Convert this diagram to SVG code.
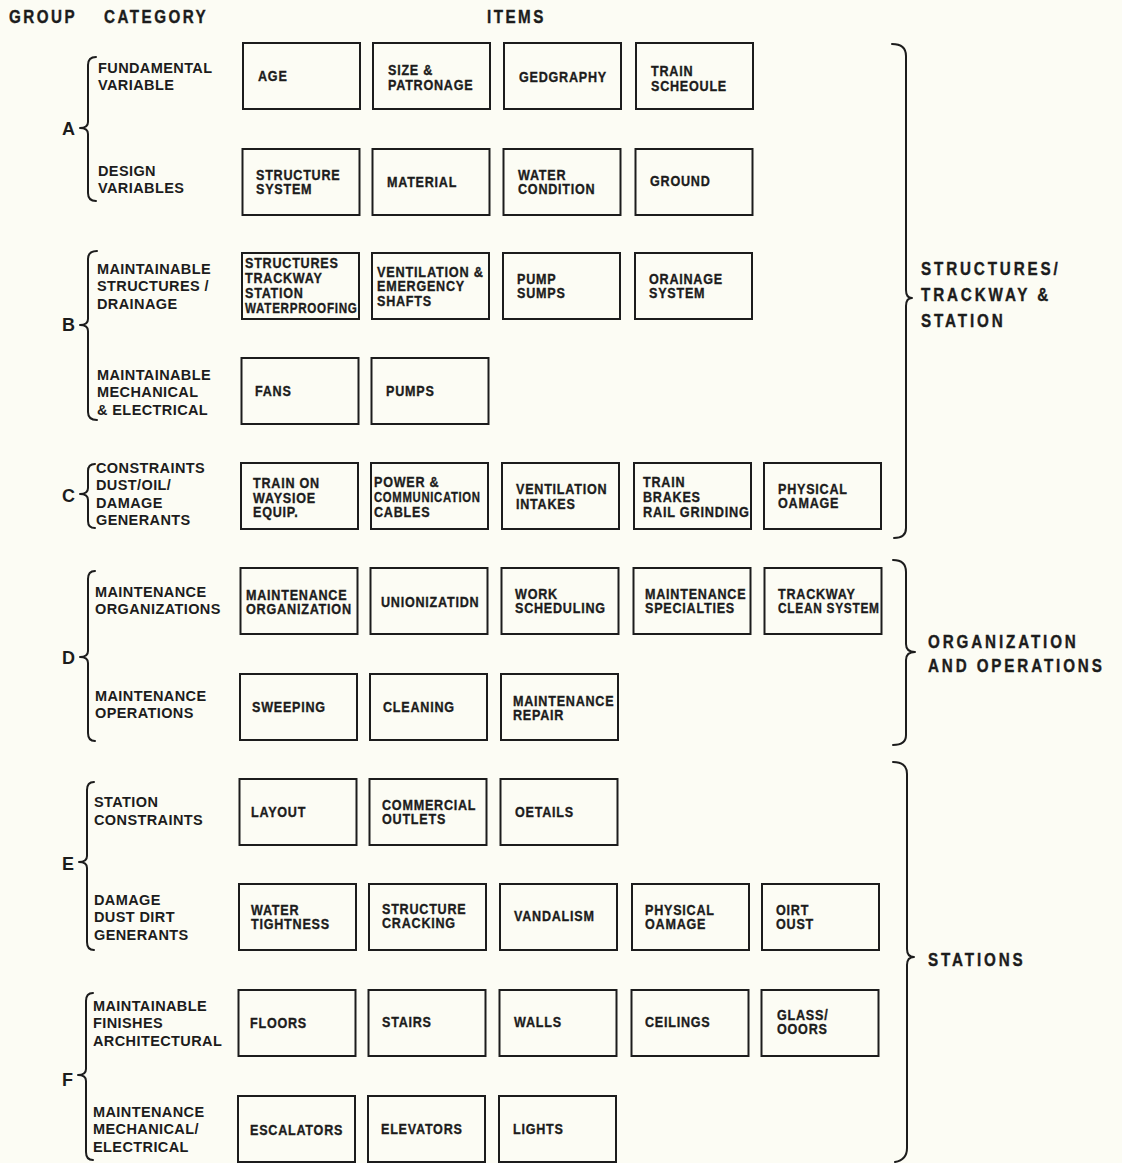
<svg xmlns="http://www.w3.org/2000/svg" width="1122" height="1163" viewBox="0 0 1122 1163">
  <style>
    .bg { fill: #fcfcf4; }
    .box { fill: none; stroke: #1c1c1c; stroke-width: 2; }
    .brace { fill: none; stroke: #1c1c1c; stroke-width: 2; stroke-linecap: round; stroke-linejoin: round; }
    .bx { font-family: "Liberation Sans", Arial, sans-serif; font-weight: bold; font-size: 15px; letter-spacing: 0.9px; fill: #1c1c1c; stroke: #1c1c1c; stroke-width: 0.35; }
    .cat { font-family: "Liberation Sans", Arial, sans-serif; font-weight: bold; font-size: 14.5px; letter-spacing: 0.4px; fill: #1c1c1c; }
    .grp { font-family: "Liberation Sans", Arial, sans-serif; font-weight: bold; font-size: 18px; fill: #1c1c1c; }
    .hd { font-family: "Liberation Sans", Arial, sans-serif; font-weight: bold; font-size: 19px; letter-spacing: 3.1px; fill: #1c1c1c; stroke: #1c1c1c; stroke-width: 0.4; }
    .sec { font-family: "Liberation Sans", Arial, sans-serif; font-weight: bold; font-size: 19px; letter-spacing: 3.6px; fill: #1c1c1c; stroke: #1c1c1c; stroke-width: 0.4; }
  </style>
  <rect class="bg" x="0" y="0" width="1122" height="1163"/>

  <!-- column headings -->
  <g id="headings">
    <text class="hd" transform="translate(9,23) scale(0.8,1)">GROUP</text>
    <text class="hd" transform="translate(104,23) scale(0.8,1)">CATEGORY</text>
    <text class="hd" transform="translate(487,23) scale(0.8,1)">ITEMS</text>
  </g>

  <!-- group letters and category labels -->
  <g id="groups">
    <text class="grp" x="62" y="135">A</text>
    <text class="grp" x="62" y="331">B</text>
    <text class="grp" x="62" y="502">C</text>
    <text class="grp" x="62" y="664">D</text>
    <text class="grp" x="62" y="870">E</text>
    <text class="grp" x="62" y="1086">F</text>
  </g>
  <g id="categories">
    <text class="cat"><tspan x="98" y="73">FUNDAMENTAL</tspan><tspan x="98" y="90">VARIABLE</tspan></text>
    <text class="cat"><tspan x="98" y="176">DESIGN</tspan><tspan x="98" y="193">VARIABLES</tspan></text>
    <text class="cat"><tspan x="97" y="274">MAINTAINABLE</tspan><tspan x="97" y="291">STRUCTURES /</tspan><tspan x="97" y="309">DRAINAGE</tspan></text>
    <text class="cat"><tspan x="97" y="380">MAINTAINABLE</tspan><tspan x="97" y="397">MECHANICAL</tspan><tspan x="97" y="415">&amp; ELECTRICAL</tspan></text>
    <text class="cat"><tspan x="96" y="473">CONSTRAINTS</tspan><tspan x="96" y="490">DUST/OIL/</tspan><tspan x="96" y="508">DAMAGE</tspan><tspan x="96" y="525">GENERANTS</tspan></text>
    <text class="cat"><tspan x="95" y="597">MAINTENANCE</tspan><tspan x="95" y="614">ORGANIZATIONS</tspan></text>
    <text class="cat"><tspan x="95" y="701">MAINTENANCE</tspan><tspan x="95" y="718">OPERATIONS</tspan></text>
    <text class="cat"><tspan x="94" y="807">STATION</tspan><tspan x="94" y="825">CONSTRAINTS</tspan></text>
    <text class="cat"><tspan x="94" y="905">DAMAGE</tspan><tspan x="94" y="922">DUST DIRT</tspan><tspan x="94" y="940">GENERANTS</tspan></text>
    <text class="cat"><tspan x="93" y="1011">MAINTAINABLE</tspan><tspan x="93" y="1028">FINISHES</tspan><tspan x="93" y="1046">ARCHITECTURAL</tspan></text>
    <text class="cat"><tspan x="93" y="1117">MAINTENANCE</tspan><tspan x="93" y="1134">MECHANICAL/</tspan><tspan x="93" y="1152">ELECTRICAL</tspan></text>
  </g>

  <!-- braces -->
  <g id="connectors">
    <path class="brace" d="M96,57 Q88,57 88,65 L88,122 Q88,128 80,128 Q88,128 88,134 L88,193 Q88,201 96,201"/>
    <path class="brace" d="M97,251 Q88,251 88,259 L88,319 Q88,325 80,325 Q88,325 88,331 L88,412 Q88,420 97,420"/>
    <path class="brace" d="M95,464 Q88,464 88,471 L88,488 Q88,494 80,494 Q88,494 88,500 L88,521 Q88,528 95,528"/>
    <path class="brace" d="M95,571 Q88,571 88,579 L88,651 Q88,657 80,657 Q88,657 88,663 L88,733 Q88,741 95,741"/>
    <path class="brace" d="M94,782 Q87,782 87,790 L87,856 Q87,862 79,862 Q87,862 87,868 L87,942 Q87,950 94,950"/>
    <path class="brace" d="M93,993 Q86,993 86,1001 L86,1069 Q86,1075 78,1075 Q86,1075 86,1081 L86,1152 Q86,1160 93,1160"/>

    <path class="brace" d="M892,44 Q906,44 906,56 L906,290 Q906,298 912,298 Q906,298 906,306 L906,528 Q906,538 894,538"/>
    <path class="brace" d="M893,560 Q906,560 906,572 L906,644 Q906,652 915,652 Q906,652 906,660 L906,735 Q906,745 893,745"/>
    <path class="brace" d="M893,762 Q907,762 907,774 L907,949 Q907,957 914,957 Q907,957 907,965 L907,1148 Q907,1160 895,1162"/>
  </g>

  <!-- section labels -->
  <g id="sections">
    <text class="sec" transform="translate(921,275) scale(0.8,1)"><tspan x="0" y="0">STRUCTURES/</tspan><tspan x="0" y="26">TRACKWAY &amp;</tspan><tspan x="0" y="52">STATION</tspan></text>
    <text class="sec" transform="translate(928,648) scale(0.8,1)"><tspan x="0" y="0">ORGANIZATION</tspan><tspan x="0" y="24">AND OPERATIONS</tspan></text>
    <text class="sec" transform="translate(928,966) scale(0.8,1)">STATIONS</text>
  </g>

  <!-- group A -->
  <g id="a-age"><rect class="box" x="243" y="43" width="117" height="66"/><text class="bx" transform="translate(258,81) scale(0.84,1)">AGE</text></g>
  <g id="a-size"><rect class="box" x="373" y="43" width="117" height="66"/><text class="bx" transform="translate(388,75) scale(0.84,1)"><tspan x="0" y="0">SIZE &amp;</tspan><tspan x="0" y="15">PATRONAGE</tspan></text></g>
  <g id="a-geography"><rect class="box" x="504" y="43" width="117" height="66"/><text class="bx" transform="translate(519,82) scale(0.84,1)">GEDGRAPHY</text></g>
  <g id="a-schedule"><rect class="box" x="636" y="43" width="117" height="66"/><text class="bx" transform="translate(651,76) scale(0.84,1)"><tspan x="0" y="0">TRAIN</tspan><tspan x="0" y="15">SCHEOULE</tspan></text></g>

  <g id="a-structure"><rect class="box" x="242.5" y="149" width="117" height="66"/><text class="bx" transform="translate(256,180) scale(0.84,1)"><tspan x="0" y="0">STRUCTURE</tspan><tspan x="0" y="14">SYSTEM</tspan></text></g>
  <g id="a-material"><rect class="box" x="372.5" y="149" width="117" height="66"/><text class="bx" transform="translate(387,187) scale(0.84,1)">MATERIAL</text></g>
  <g id="a-water"><rect class="box" x="503.5" y="149" width="117" height="66"/><text class="bx" transform="translate(518,180) scale(0.84,1)"><tspan x="0" y="0">WATER</tspan><tspan x="0" y="14">CONDITION</tspan></text></g>
  <g id="a-ground"><rect class="box" x="635.5" y="149" width="117" height="66"/><text class="bx" transform="translate(650,186) scale(0.84,1)">GROUND</text></g>

  <!-- group B -->
  <g id="b-waterproofing"><rect class="box" x="242" y="253" width="117" height="66"/><text class="bx" transform="translate(245,268) scale(0.84,1)"><tspan x="0" y="0">STRUCTURES</tspan><tspan x="0" y="15">TRACKWAY</tspan><tspan x="0" y="30">STATION</tspan><tspan x="0" y="45" textLength="134" lengthAdjust="spacingAndGlyphs">WATERPROOFING</tspan></text></g>
  <g id="b-shafts"><rect class="box" x="372" y="253" width="117" height="66"/><text class="bx" transform="translate(377,277) scale(0.84,1)"><tspan x="0" y="0" textLength="127" lengthAdjust="spacingAndGlyphs">VENTILATION &amp;</tspan><tspan x="0" y="14">EMERGENCY</tspan><tspan x="0" y="29">SHAFTS</tspan></text></g>
  <g id="b-sumps"><rect class="box" x="503" y="253" width="117" height="66"/><text class="bx" transform="translate(517,284) scale(0.84,1)"><tspan x="0" y="0">PUMP</tspan><tspan x="0" y="14">SUMPS</tspan></text></g>
  <g id="b-drainage"><rect class="box" x="635" y="253" width="117" height="66"/><text class="bx" transform="translate(649,284) scale(0.84,1)"><tspan x="0" y="0">ORAINAGE</tspan><tspan x="0" y="14">SYSTEM</tspan></text></g>

  <g id="b-fans"><rect class="box" x="241.5" y="358" width="117" height="66"/><text class="bx" transform="translate(255,396) scale(0.84,1)">FANS</text></g>
  <g id="b-pumps"><rect class="box" x="371.5" y="358" width="117" height="66"/><text class="bx" transform="translate(386,396) scale(0.84,1)">PUMPS</text></g>

  <!-- group C -->
  <g id="c-train"><rect class="box" x="241" y="463" width="117" height="66"/><text class="bx" transform="translate(253,488) scale(0.84,1)"><tspan x="0" y="0">TRAIN ON</tspan><tspan x="0" y="15">WAYSIOE</tspan><tspan x="0" y="29">EQUIP.</tspan></text></g>
  <g id="c-cables"><rect class="box" x="371" y="463" width="117" height="66"/><text class="bx" transform="translate(374,487) scale(0.84,1)"><tspan x="0" y="0">POWER &amp;</tspan><tspan x="0" y="15" textLength="127" lengthAdjust="spacingAndGlyphs">COMMUNICATION</tspan><tspan x="0" y="30">CABLES</tspan></text></g>
  <g id="c-intakes"><rect class="box" x="502" y="463" width="117" height="66"/><text class="bx" transform="translate(516,494) scale(0.84,1)"><tspan x="0" y="0">VENTILATION</tspan><tspan x="0" y="15">INTAKES</tspan></text></g>
  <g id="c-brakes"><rect class="box" x="634" y="463" width="117" height="66"/><text class="bx" transform="translate(643,487) scale(0.84,1)"><tspan x="0" y="0">TRAIN</tspan><tspan x="0" y="15">BRAKES</tspan><tspan x="0" y="30" textLength="127" lengthAdjust="spacingAndGlyphs">RAIL GRINDING</tspan></text></g>
  <g id="c-damage"><rect class="box" x="764" y="463" width="117" height="66"/><text class="bx" transform="translate(778,494) scale(0.84,1)"><tspan x="0" y="0">PHYSICAL</tspan><tspan x="0" y="14">OAMAGE</tspan></text></g>

  <!-- group D -->
  <g id="d-organization"><rect class="box" x="240.5" y="568" width="117" height="66"/><text class="bx" transform="translate(246,600) scale(0.84,1)"><tspan x="0" y="0">MAINTENANCE</tspan><tspan x="0" y="14" textLength="126" lengthAdjust="spacingAndGlyphs">ORGANIZATION</tspan></text></g>
  <g id="d-unionization"><rect class="box" x="370.5" y="568" width="117" height="66"/><text class="bx" transform="translate(381,607) scale(0.84,1)">UNIONIZATIDN</text></g>
  <g id="d-scheduling"><rect class="box" x="501.5" y="568" width="117" height="66"/><text class="bx" transform="translate(515,599) scale(0.84,1)"><tspan x="0" y="0">WORK</tspan><tspan x="0" y="14">SCHEDULING</tspan></text></g>
  <g id="d-specialties"><rect class="box" x="633.5" y="568" width="117" height="66"/><text class="bx" transform="translate(645,599) scale(0.84,1)"><tspan x="0" y="0">MAINTENANCE</tspan><tspan x="0" y="14">SPECIALTIES</tspan></text></g>
  <g id="d-trackway"><rect class="box" x="764.5" y="568" width="117" height="66"/><text class="bx" transform="translate(778,599) scale(0.84,1)"><tspan x="0" y="0">TRACKWAY</tspan><tspan x="0" y="14" textLength="121" lengthAdjust="spacingAndGlyphs">CLEAN SYSTEM</tspan></text></g>

  <g id="d-sweeping"><rect class="box" x="240" y="674" width="117" height="66"/><text class="bx" transform="translate(252,712) scale(0.84,1)">SWEEPING</text></g>
  <g id="d-cleaning"><rect class="box" x="370" y="674" width="117" height="66"/><text class="bx" transform="translate(383,712) scale(0.84,1)">CLEANING</text></g>
  <g id="d-repair"><rect class="box" x="501" y="674" width="117" height="66"/><text class="bx" transform="translate(513,706) scale(0.84,1)"><tspan x="0" y="0">MAINTENANCE</tspan><tspan x="0" y="14">REPAIR</tspan></text></g>

  <!-- group E -->
  <g id="e-layout"><rect class="box" x="239.5" y="779" width="117" height="66"/><text class="bx" transform="translate(251,817) scale(0.84,1)">LAYOUT</text></g>
  <g id="e-outlets"><rect class="box" x="369.5" y="779" width="117" height="66"/><text class="bx" transform="translate(382,810) scale(0.84,1)"><tspan x="0" y="0">COMMERCIAL</tspan><tspan x="0" y="14">OUTLETS</tspan></text></g>
  <g id="e-details"><rect class="box" x="500.5" y="779" width="117" height="66"/><text class="bx" transform="translate(515,817) scale(0.84,1)">OETAILS</text></g>

  <g id="e-tightness"><rect class="box" x="239" y="884" width="117" height="66"/><text class="bx" transform="translate(251,915) scale(0.84,1)"><tspan x="0" y="0">WATER</tspan><tspan x="0" y="14">TIGHTNESS</tspan></text></g>
  <g id="e-cracking"><rect class="box" x="369" y="884" width="117" height="66"/><text class="bx" transform="translate(382,914) scale(0.84,1)"><tspan x="0" y="0">STRUCTURE</tspan><tspan x="0" y="14">CRACKING</tspan></text></g>
  <g id="e-vandalism"><rect class="box" x="500" y="884" width="117" height="66"/><text class="bx" transform="translate(514,921) scale(0.84,1)">VANDALISM</text></g>
  <g id="e-damage"><rect class="box" x="632" y="884" width="117" height="66"/><text class="bx" transform="translate(645,915) scale(0.84,1)"><tspan x="0" y="0">PHYSICAL</tspan><tspan x="0" y="14">OAMAGE</tspan></text></g>
  <g id="e-dirt"><rect class="box" x="762" y="884" width="117" height="66"/><text class="bx" transform="translate(776,915) scale(0.84,1)"><tspan x="0" y="0">OIRT</tspan><tspan x="0" y="14">OUST</tspan></text></g>

  <!-- group F -->
  <g id="f-floors"><rect class="box" x="238.5" y="990" width="117" height="66"/><text class="bx" transform="translate(250,1028) scale(0.84,1)">FLOORS</text></g>
  <g id="f-stairs"><rect class="box" x="368.5" y="990" width="117" height="66"/><text class="bx" transform="translate(382,1027) scale(0.84,1)">STAIRS</text></g>
  <g id="f-walls"><rect class="box" x="499.5" y="990" width="117" height="66"/><text class="bx" transform="translate(514,1027) scale(0.84,1)">WALLS</text></g>
  <g id="f-ceilings"><rect class="box" x="631.5" y="990" width="117" height="66"/><text class="bx" transform="translate(645,1027) scale(0.84,1)">CEILINGS</text></g>
  <g id="f-doors"><rect class="box" x="761.5" y="990" width="117" height="66"/><text class="bx" transform="translate(777,1020) scale(0.84,1)"><tspan x="0" y="0">GLASS/</tspan><tspan x="0" y="14">OOORS</tspan></text></g>

  <g id="f-escalators"><rect class="box" x="238" y="1096" width="117" height="66"/><text class="bx" transform="translate(250,1135) scale(0.84,1)">ESCALATORS</text></g>
  <g id="f-elevators"><rect class="box" x="368" y="1096" width="117" height="66"/><text class="bx" transform="translate(381,1134) scale(0.84,1)">ELEVATORS</text></g>
  <g id="f-lights"><rect class="box" x="499" y="1096" width="117" height="66"/><text class="bx" transform="translate(513,1134) scale(0.84,1)">LIGHTS</text></g>
</svg>
